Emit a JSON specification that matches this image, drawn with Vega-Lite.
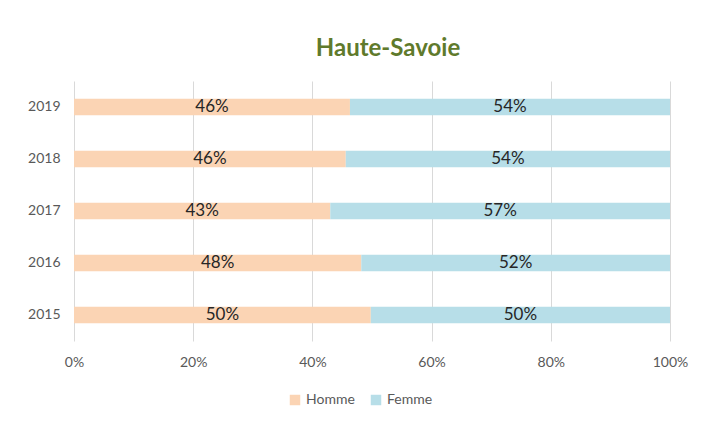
{
  "$schema": "https://vega.github.io/schema/vega-lite/v6.json",
  "width": 596,
  "height": 260,
  "autosize": {"type": "none"},
  "padding": {"left": 74, "top": 81, "right": 35, "bottom": 84},
  "background": "white",
  "title": {
    "text": "Haute-Savoie",
    "font": "Lato",
    "fontSize": 24,
    "fontWeight": "bold",
    "color": "#5f7a2c",
    "anchor": "middle",
    "offset": 20,
    "dx": 16
  },
  "data": {
    "values": [
      {"annee": "2019", "sexe": "Homme", "part": 0.463},
      {"annee": "2019", "sexe": "Femme", "part": 0.537},
      {"annee": "2018", "sexe": "Homme", "part": 0.456},
      {"annee": "2018", "sexe": "Femme", "part": 0.544},
      {"annee": "2017", "sexe": "Homme", "part": 0.43},
      {"annee": "2017", "sexe": "Femme", "part": 0.57},
      {"annee": "2016", "sexe": "Homme", "part": 0.482},
      {"annee": "2016", "sexe": "Femme", "part": 0.518},
      {"annee": "2015", "sexe": "Homme", "part": 0.498},
      {"annee": "2015", "sexe": "Femme", "part": 0.502}
    ]
  },
  "encoding": {
    "y": {
      "field": "annee",
      "type": "nominal",
      "sort": ["2019", "2018", "2017", "2016", "2015"],
      "scale": {"paddingInner": 0.68, "paddingOuter": 0.34},
      "axis": {
        "title": null,
        "domain": false,
        "ticks": false,
        "labelPadding": 14,
        "labelFont": "Lato",
        "labelFontSize": 14,
        "labelColor": "#595959"
      }
    },
    "x": {
      "field": "part",
      "type": "quantitative",
      "stack": "normalize",
      "scale": {"domain": [0, 1]},
      "axis": {
        "title": null,
        "format": ".0%",
        "values": [0, 0.2, 0.4, 0.6, 0.8, 1],
        "domain": false,
        "ticks": false,
        "labelFlush": false,
        "labelPadding": 14,
        "labelFont": "Lato",
        "labelFontSize": 14,
        "labelColor": "#595959",
        "gridColor": "#d9d9d9",
        "gridWidth": 1
      }
    },
    "order": {"field": "sexe", "sort": "descending"}
  },
  "layer": [
    {
      "mark": {"type": "bar"},
      "encoding": {
        "color": {
          "field": "sexe",
          "type": "nominal",
          "scale": {"domain": ["Homme", "Femme"], "range": ["#fbd4b4", "#b7dee8"]},
          "legend": {
            "title": null,
            "orient": "none",
            "legendX": 214,
            "legendY": 312,
            "direction": "horizontal",
            "symbolType": "square",
            "symbolSize": 110,
            "symbolStrokeWidth": 0,
            "labelFont": "Lato",
            "labelFontSize": 14,
            "labelColor": "#595959",
            "columnPadding": 14,
            "labelOffset": 4
          }
        }
      }
    },
    {
      "mark": {"type": "text", "font": "Lato", "fontSize": 17, "color": "#262626"},
      "encoding": {
        "x": {"field": "part", "type": "quantitative", "stack": "normalize", "bandPosition": 0.5},
        "detail": {"field": "sexe", "type": "nominal"},
        "text": {"field": "part", "type": "quantitative", "format": ".0%"}
      }
    }
  ],
  "config": {"view": {"stroke": null}}
}
